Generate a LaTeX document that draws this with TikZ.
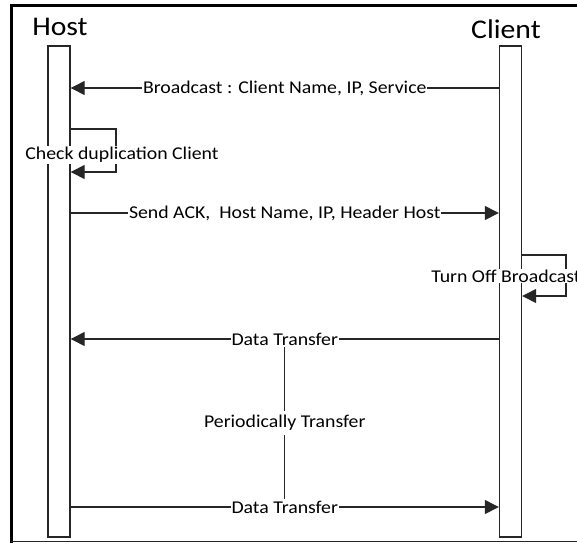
\documentclass[tikz,border=0pt]{standalone}
\usepackage{fontspec}
\setmainfont{Carlito}[FakeStretch=1.1]
\usetikzlibrary{arrows.meta}
\begin{document}
\begin{tikzpicture}[x=1pt,y=-1pt,
  lifebar/.style={draw=black!85,line width=1.4pt,fill=white,minimum width=22pt,minimum height=491pt,inner sep=0pt},
  actor/.style={font=\fontsize{27}{30}\selectfont,anchor=base},
  msg/.style={draw=black!85,line width=1.3pt,-{Triangle[length=14pt,width=14pt]}},
  lbl/.style={fill=white,inner sep=1pt,font=\fontsize{18}{21}\selectfont},
  frameline/.style={draw=black,line width=3pt}]
\useasboundingbox (0,0) rectangle (577,543);
\begin{scope}
\clip (0,0) rectangle (577,543);
% outer frame
\draw[frameline] (11,543) -- (11,6) -- (580,6);
\draw[draw=black!85,line width=1.5pt] (11,541.5) -- (580,541.5);
% lifelines
\node[lifebar] (hostbar) at (59,291.5) {};
\node[lifebar] (clientbar) at (510.5,291.5) {};
\node[actor] (host) at (60,36) {Host};
\node[actor] (client) at (506,39) {Client};
% broadcast from the client
\draw[msg] (clientbar.west |- 0,88) -- node[lbl] (bc) {Broadcast : Client Name, IP, Service} (hostbar.east |- 0,88);
% host checks for a duplicate client
\coordinate (hl1) at (116,129);
\coordinate (hl2) at (116,172);
\draw[msg] (hostbar.east |- hl1) -- (hl1) -- (hl2) -- (hostbar.east |- hl2);
\node[lbl] (chk) at (122,155) {Check duplication Client};
% acknowledgement to the client
\draw[msg] (hostbar.east |- 0,213) -- node[lbl] (ack) {Send ACK,\ \ Host Name, IP, Header Host} (clientbar.west |- 0,213);
% client stops broadcasting
\coordinate (cl1) at (566,255);
\coordinate (cl2) at (566,296);
\draw[msg] (clientbar.east |- cl1) -- (cl1) -- (cl2) -- (clientbar.east |- cl2);
\node[lbl] (off) at (506,276) {Turn Off Broadcast};
% periodic data transfer
\draw[msg] (clientbar.west |- 0,339) -- node[lbl] (dt1) {Data Transfer} (hostbar.east |- 0,339);
\draw[msg] (hostbar.east |- 0,507) -- node[lbl] (dt2) {Data Transfer} (clientbar.west |- 0,507);
\draw[draw=black!85,line width=1.4pt] (dt1) -- node[lbl,inner sep=4pt] (per) {Periodically Transfer} (dt2);
\end{scope}
\end{tikzpicture}
\end{document}
